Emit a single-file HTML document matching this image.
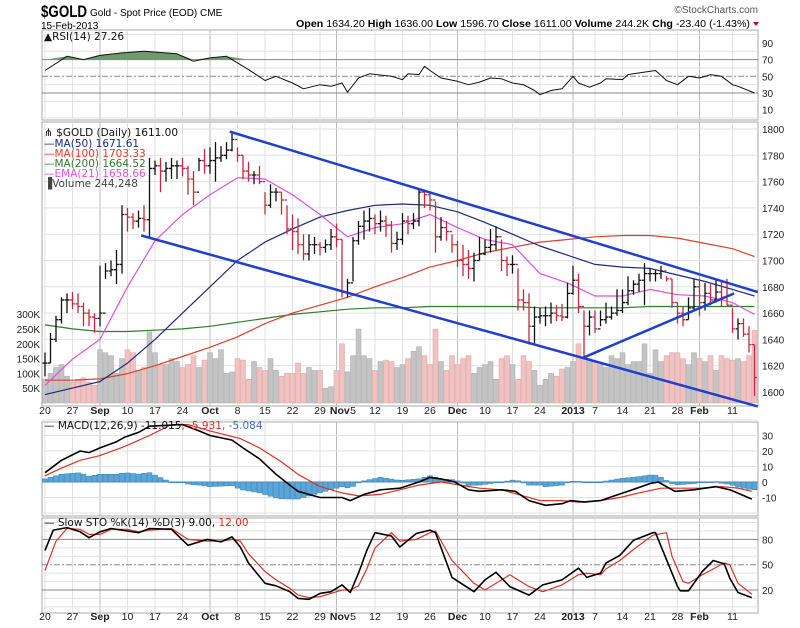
<!DOCTYPE html>
<html><head><meta charset="utf-8"><style>
body{margin:0;background:#fff;}
svg{display:block;font-family:"Liberation Sans",sans-serif;}
</style></head><body>
<svg id="c" width="800" height="628" viewBox="0 0 800 628">
<rect x="0" y="0" width="800" height="628" fill="#fff"/>
<text x="41" y="17" font-size="17" font-weight="bold" textLength="46" lengthAdjust="spacingAndGlyphs">$GOLD</text>
<text x="90" y="16" font-size="10">Gold - Spot Price (EOD)  CME</text>
<text x="41" y="29" font-size="10">15-Feb-2013</text>
<text x="758" y="13" font-size="10" fill="#555" text-anchor="end">©StockCharts.com</text>
<text x="296" y="27" font-size="10.5" textLength="454" lengthAdjust="spacingAndGlyphs"><tspan font-weight="bold">Open</tspan> 1634.20 <tspan font-weight="bold">High</tspan> 1636.00 <tspan font-weight="bold">Low</tspan> 1596.70 <tspan font-weight="bold">Close</tspan> 1611.00 <tspan font-weight="bold">Volume</tspan> 244.2K <tspan font-weight="bold">Chg</tspan> -23.40 (-1.43%)</text>
<path d="M753 22 L759 22 L756 26 Z" fill="#c00"/>
<g id="layer"></g>
</svg>
<script>
// ---------- data ----------
const closes=[1622,1640,1655,1670,1670, 1667,1665,1660,1657,1656, 1660,1692,1693,1697,1735, 1733,1730,1732,1731,1770, 1772,1768,1770,1772,1772, 1770,1762,1752,1776,1772, 1776,1778,1780,1784,1792, 1780,1768,1765,1765,1760, 1742,1752,1752,1746,1724, 1722,1712,1705,1712,1712, 1710,1712,1718,1716,1676, 1683,1715,1726,1730,1732, 1728,1730,1727,1713,1716, 1730,1728,1730,1752,1750, 1746,1718,1725,1722,1712, 1700,1697,1694,1700,1705, 1710,1712,1718,1700,1697, 1697,1670,1668,1650,1657, 1658,1658,1660,1658,1657, 1675,1685,1665,1650,1657, 1648,1655,1657,1660,1662, 1668,1677,1682,1685,1690, 1690,1690,1692,1686,1668, 1660,1655,1664,1680,1668, 1675,1670,1676,1672,1666, 1648,1652,1644,1636,1611];
const highs=[1630,1645,1658,1672,1675, 1676,1675,1668,1663,1660, 1696,1698,1700,1708,1742, 1740,1736,1738,1742,1778, 1776,1778,1775,1778,1776, 1778,1772,1768,1778,1785, 1786,1790,1787,1790,1798, 1786,1780,1775,1768,1772, 1752,1758,1755,1752,1742, 1735,1732,1720,1720,1718, 1714,1716,1724,1728,1716, 1686,1718,1730,1738,1740, 1735,1738,1734,1730,1722, 1736,1734,1736,1755,1754, 1752,1745,1733,1730,1720, 1715,1712,1708,1706,1718, 1716,1724,1726,1716,1703, 1704,1694,1678,1675,1665, 1664,1665,1668,1666,1667, 1683,1696,1690,1662,1662, 1662,1662,1668,1665,1678, 1678,1688,1685,1690,1698, 1694,1693,1696,1688,1686, 1668,1665,1672,1686,1686, 1683,1682,1686,1684,1686, 1664,1656,1656,1650,1636];
const lows=[1612,1622,1638,1652,1660, 1663,1660,1650,1650,1645, 1650,1686,1688,1682,1690, 1722,1724,1725,1722,1717, 1765,1752,1760,1762,1762, 1764,1750,1742,1768,1766, 1766,1760,1775,1777,1783, 1775,1762,1760,1758,1758, 1735,1740,1745,1735,1720, 1708,1705,1700,1700,1705, 1704,1706,1708,1710,1672, 1672,1684,1712,1716,1722, 1720,1722,1718,1706,1708, 1712,1720,1724,1726,1740, 1738,1706,1715,1715,1706, 1695,1688,1686,1684,1700, 1704,1706,1708,1692,1688, 1690,1662,1662,1636,1637, 1652,1650,1652,1654,1654, 1656,1674,1660,1626,1643, 1645,1650,1652,1655,1658, 1660,1666,1674,1676,1666, 1684,1684,1686,1684,1664, 1652,1650,1655,1662,1658, 1662,1666,1668,1665,1666, 1645,1640,1642,1630,1597];
const volumes=[80,100,120,130,90, 70,80,85,70,60, 180,170,160,100,150, 180,170,110,120,240, 170,130,130,150,140, 120,130,160,120,145, 170,150,180,100,105, 150,145,80,140,120, 110,150,110,90,100, 100,135,100,120,110, 110,50,55,110,200, 105,160,250,160,150, 110,140,145,140,120, 130,150,175,190,160, 130,250,140,110,160, 130,150,160,100,120, 130,140,80,150,160, 130,80,160,140,110, 60,80,100,90,115, 120,140,200,155,150, 140,130,120,160,150, 170,130,140,140,200, 100,180,140,160,170, 170,150,130,170,150, 140,160,110,160,150, 145,150,140,160,245];
// moving averages sampled at each week start (days 0,5,...,125) plus last day
const maDays=[0,5,10,15,20,25,30,35,40,45,50,55,60,65,70,75,80,85,90,95,100,105,110,115,120,125,129];
const ma50=[1598,1603,1608,1622,1640,1660,1680,1700,1714,1724,1733,1738,1742,1743,1742,1737,1729,1720,1711,1704,1697,1695,1694,1689,1684,1678,1673];
const ma100=[1609,1609,1610,1614,1620,1627,1634,1642,1652,1660,1666,1672,1680,1687,1695,1700,1706,1710,1714,1716,1718,1719,1719,1717,1713,1709,1703];
const ma200=[1651,1648,1646,1646,1647,1648,1650,1653,1656,1659,1661,1663,1664,1664,1665,1665,1665,1665,1664,1664,1664,1664,1665,1665,1665,1665,1665];
const ema21=[1605,1625,1640,1680,1715,1735,1750,1763,1762,1750,1735,1718,1725,1728,1735,1725,1716,1712,1690,1683,1673,1673,1678,1674,1673,1668,1659];
// trend lines [day, price]
const trendUpper=[[33.6,1798],[129.6,1676]];
const trendLower=[[17.5,1719],[129.6,1589]];
const trendRising=[[97.8,1626],[125.3,1675]];
// RSI
const rsiDays=[0,4,7,10,14,18,24,27,30,33,37,40,42,45,47,50,52,54,55,57,59,63,65,66,68,69,70,72,75,77,79,81,83,85,87,89,90,92,94,96,97,99,101,102,105,106,109,111,113,115,117,119,121,123,125,126,129];
const rsiVals=[57,74,70,75,78,80,77,68,72,74,58,45,50,42,35,40,38,42,31,48,53,50,46,53,52,62,57,48,44,40,43,48,47,42,40,33,28,33,35,50,42,37,42,47,46,52,55,57,45,40,50,48,52,50,40,38,30];
// MACD
const macdDays=[0,3,6.4,8,10,13,14.5,17,19,25,28,30,34,36,39,42,44.5,46,50,54,55.5,58,61,64.5,68,70,72,74.5,77,79,83,85.5,88,91,94,95.5,98,101,103.5,106,110,111.5,114.5,118,122,124.5,126.5,128.5];
const macdVals=[6,14,20,19,22,26,29,32,36,37,33,30,27,22,15,5,-2,-6,-10,-10,-12,-8,-5,-4,0,3,2,0,-5,-6,-5,-6,-12,-15,-14,-12,-13,-12,-9,-6,-1,0,-6,-5,-3,-5,-8,-11];
const signalDays=[0,3,6.4,10,14.5,19,23,26,30,35.5,39,43,46,50,54,57,61,64.5,68,72,75.5,79,83,86,90,94,97,101,104.5,108,112,115.5,119,123,126,128.5];
const signalVals=[4,9,14,17,23,30,37,37,33,28,22,13,5,-3,-7,-9,-8,-5,-2,0,-2,-4,-5,-8,-12,-12,-13,-12,-10,-7,-4,-4,-4,-3,-4,-6];
// Slow stochastics
const stoKDays=[0,1.5,4,6.4,8,10,12,15,17,19,23,26,29.5,32,34,35.5,37,40,42,44.5,46,48,50,52,54,55.5,57,58.5,60,63,64.5,67.5,70,71,74,78,80,82,84.5,88,90.5,94,97,98.5,101,102,104.5,107,110.5,111,115,115.5,117,119.5,121.5,123.5,124.5,126,128.5];
const stoKVals=[67,91,94,89,82,89,93,90,88,93,92,73,80,77,83,71,52,28,25,18,10,9,16,18,26,17,40,67,88,84,71,87,91,88,35,18,32,41,24,14,26,32,46,35,40,52,61,79,88,88,24,19,19,42,55,51,34,17,11];
const stoDDays=[0,2,4,6.4,8,10,12,15,17,19,23,26,29.5,32,34,35.5,37,40,42,44.5,46,48,50,52,54,55.5,57,58.5,60,63,64.5,67.5,70,71,74,78,80,82,84.5,88,90.5,94,97,98.5,101,102,104.5,107,110.5,113,114,116,117,119.5,121.5,123.5,124.5,126,128.5];
const stoDVals=[43,78,93,92,86,86,92,92,89,91,93,80,78,78,80,78,63,42,32,22,14,11,12,16,20,20,25,45,70,88,78,80,88,90,55,28,20,28,38,24,18,26,38,40,38,45,55,68,85,88,60,30,28,38,45,52,50,28,15];
// axis labels
const xLabelDays=[0,5,10,15,20,25,30,35,40,45,50,53.6,56,60,65,70,75,80,85,90,96,100,105,110,115,119,125];
const xLabels=["20","27","Sep","10","17","24","Oct","8","15","22","29","Nov","5","12","19","26","Dec","10","17","24","2013","7","14","21","28","Feb","11"];
const monthLabels=["Sep","Oct","Nov","Dec","2013","Feb"];
const priceTicks=[1600,1620,1640,1660,1680,1700,1720,1740,1760,1780,1800];
const volTicks=[50,100,150,200,250,300];
const rsiTicks=[10,30,50,70,90];
const macdTicks=[-10,0,10,20,30];
const stoTicks=[20,50,80];

// ---------- geometry ----------
const L=42,R=758;
const xd=d=>45+d*5.5;
const yP=p=>129+(1800-p)*1.315;
const yV=v=>403-v*0.296;
const yR=v=>93-(v-30)*0.835;
const yM=v=>482-v*1.55;
const yS=v=>590-(v-20)*0.843;
const NS="http://www.w3.org/2000/svg";
const layer=document.getElementById('layer');
function mk(tag,attrs,parent){const e=document.createElementNS(NS,tag);for(const k in attrs)e.setAttribute(k,attrs[k]);(parent||layer).appendChild(e);return e;}
function poly(days,vals,yf,color,w){let d='';days.forEach((dd,i)=>{d+=(i?'L':'M')+xd(dd).toFixed(1)+' '+yf(vals[i]).toFixed(1);});return mk('path',{d:d,fill:'none',stroke:color,'stroke-width':w,'stroke-linejoin':'round'});}
const panels=[[30,120],[122,406],[422,516],[518,613]];

// grids
panels.forEach((p,pi)=>{
  const r=mk('rect',{x:L,y:p[0],width:R-L,height:p[1]-p[0],fill:'#fff',stroke:'#aaa','stroke-width':1});
  
  
  xLabelDays.forEach((d,i)=>{
    if(xLabels[i]==='5')return;
    const isM=monthLabels.includes(xLabels[i]);
    const g=mk('line',{x1:xd(isM&&xLabels[i]==='Nov'?53:d),x2:xd(isM&&xLabels[i]==='Nov'?53:d),y1:p[0],y2:p[1],stroke:isM?'#bbb':'#e2e2e2','stroke-width':1});
    
    
  });
});
function hgrid(vals,yf,name){vals.forEach(v=>{const g=mk('line',{x1:L,x2:R,y1:yf(v),y2:yf(v),stroke:'#e2e2e2','stroke-width':1});
  
  });}
hgrid(priceTicks,yP,'price-grid');
hgrid([0,20,40,60,80,100],yR,'rsi-grid');
hgrid([-20,-10,10,20,30,40],yM,'macd-grid');
hgrid([0,10,30,40,60,70,90,100],yS,'sto-grid');
function refline(v,yf,dash,name){const g=mk('line',{x1:L,x2:R,y1:yf(v),y2:yf(v),stroke:'#888','stroke-width':1,'stroke-dasharray':dash||''});
  
  }
refline(70,yR,'','rsi-70-line');refline(30,yR,'','rsi-30-line');refline(50,yR,'6,2,2,2','rsi-50-line');
refline(0,yM,'','macd-zero-line');
refline(80,yS,'','sto-80-line');refline(20,yS,'','sto-20-line');refline(50,yS,'6,2,2,2','sto-50-line');

// right axis tick labels
function rlab(vals,yf,fmt,name){vals.forEach(v=>{const t=mk('text',{x:762,y:yf(v)+4,'font-size':10,fill:'#222'});t.textContent=fmt(v);
  
  });}
rlab(priceTicks,yP,v=>v,'price-tick');
rlab(rsiTicks,yR,v=>v,'rsi-tick');
rlab(macdTicks,yM,v=>v,'macd-tick');
rlab(stoTicks,yS,v=>v,'sto-tick');
volTicks.forEach(v=>{const t=mk('text',{x:40,y:yV(v)+4,'font-size':10,'text-anchor':'end',fill:'#222'});t.textContent=v+'K';
  
  });

// date labels
[414,620].forEach((yy,k)=>{xLabelDays.forEach((d,i)=>{const isM=monthLabels.includes(xLabels[i]);
  const t=mk('text',{x:xd(d),y:yy,'font-size':10.5,'text-anchor':'middle','font-weight':isM?'bold':'normal',fill:'#222'});t.textContent=xLabels[i];
  
  });});

// RSI
(function(){let d='M'+xd(rsiDays[0])+' '+yR(70);rsiDays.forEach((dd,i)=>{d+='L'+xd(dd)+' '+yR(Math.max(70,rsiVals[i]));});d+='L'+xd(rsiDays[rsiDays.length-1])+' '+yR(70)+'Z';
  const f=mk('path',{d:d,fill:'#6e9a6e',stroke:'none'});
  
  })();
const rl=poly(rsiDays,rsiVals,yR,'#111',1);



// volume
volumes.forEach((v,i)=>{const up=i===0||closes[i]>=closes[i-1];
  const b=mk('rect',{x:xd(i)-2.5,y:yV(v),width:5,height:403-yV(v),fill:up?'#c4c4c4':'#f0c2c2',stroke:up?'#aaa':'#dca0a0','stroke-width':0.5});
  
  });

// MAs
[[ma200,'#2e7d2e','ma200-line'],[ma100,'#e0402a','ma100-line'],[ma50,'#1c2a80','ma50-line'],[ema21,'#e050e0','ema21-line']].forEach(m=>{
  const p=poly(maDays,m[0],yP,m[1],1.2);
  
  });

// price bars
closes.forEach((c,i)=>{const up=i===0||c>=closes[i-1];const col=up?'#111':'#c8283c';const x=xd(i);
  const op=i===0?c:closes[i-1];
  const g=mk('path',{d:`M${x} ${yP(highs[i])}L${x} ${yP(lows[i])}M${x-2.5} ${yP(op)}L${x} ${yP(op)}M${x} ${yP(c)}L${x+2.5} ${yP(c)}`,stroke:col,'stroke-width':1.3,fill:'none'});
  
  });

// trend lines
[[trendUpper,'trendline-upper'],[trendLower,'trendline-lower'],[trendRising,'trendline-rising']].forEach(t=>{
  const l=mk('line',{x1:xd(t[0][0][0]),y1:yP(t[0][0][1]),x2:xd(t[0][1][0]),y2:yP(t[0][1][1]),stroke:'#1f3fd0','stroke-width':2.5});
  
  });

// MACD histogram (MACD - signal)
function interp(days,vals,d){if(d<=days[0])return vals[0];for(let i=1;i<days.length;i++){if(d<=days[i]){const t=(d-days[i-1])/(days[i]-days[i-1]);return vals[i-1]+t*(vals[i]-vals[i-1]);}}return vals[vals.length-1];}
for(let i=0;i<closes.length;i++){const h=interp(macdDays,macdVals,i)-interp(signalDays,signalVals,i);
  const y1=Math.min(yM(0),yM(h)),hh=Math.abs(yM(h)-yM(0));
  const b=mk('rect',{x:xd(i)-2.5,y:y1,width:5,height:Math.max(hh,0.8),fill:'#5aa6d8',stroke:'#2f7fb5','stroke-width':0.5});
  
  }
const sl=poly(signalDays,signalVals,yM,'#e03020',1.2);


const ml=poly(macdDays,macdVals,yM,'#000',1.6);



// STO
const dl=poly(stoDDays,stoDVals,yS,'#e03020',1.2);


const kl=poly(stoKDays,stoKVals,yS,'#000',1.6);



// legends
function legend(x,y,parts,name){const t=mk('text',{x:x,y:y,'font-size':10.5,'font-family':'"DejaVu Sans","Liberation Sans",sans-serif'});
  parts.forEach(p=>{const s=mk('tspan',{fill:p[1]},t);s.textContent=p[0];});
  
  return t;}
legend(44,40,[['▲RSI(14) 27.26','#111']],'rsi-legend');
legend(44,136,[['\u22D4 $GOLD (Daily) 1611.00','#111']],'price-legend');
legend(44,147,[['\u2014MA(50) ','#1c2a80'],['1671.61','#1c2a80']],'ma50-legend');
legend(44,157,[['\u2014MA(100) 1703.33','#e0402a']],'ma100-legend');
legend(44,167,[['\u2014MA(200) 1664.52','#2e7d2e']],'ma200-legend');
legend(44,177,[['\u2014EMA(21) 1658.66','#e050e0']],'ema21-legend');
legend(44,187,[['\u2590Volume 244,248','#444']],'volume-legend');
legend(44,429,[['\u2014 MACD(12,26,9) -11.015','#111'],[', -5.931','#e03020'],[', -5.084','#3a6fd0']],'macd-legend');
legend(44,526,[['\u2014 Slow STO %K(14) %D(3) 9.00, ','#111'],['12.00','#e03020']],'sto-legend');
</script>
</body></html>
